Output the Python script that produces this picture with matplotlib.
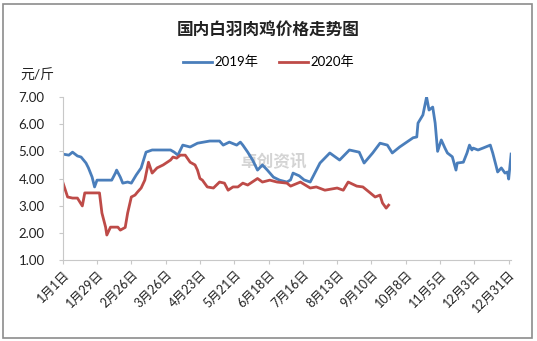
import matplotlib
matplotlib.use('Agg')
import matplotlib.pyplot as plt
from matplotlib.patches import Rectangle

plt.rcParams['font.family'] = ['Lato', 'Noto Sans CJK SC', 'DejaVu Sans']

# 天数(从1月1日起) / 价格 元/斤
days_2019 = [0, 5, 8, 12, 15, 19, 21, 24, 26, 28, 40, 43, 44, 47, 49, 53, 56, 60, 64, 68,
             73, 88, 91, 94, 98, 104, 110, 120, 128, 131, 136, 142, 145, 147, 151, 155, 159,
             163, 167, 172, 177, 183, 186, 188, 193, 197, 202, 210, 218, 226, 234, 242, 246,
             253, 259, 265, 269, 275, 286, 289, 290, 294, 297, 299, 302, 304, 306, 309, 312,
             314, 318, 321, 322, 327, 330, 332, 334, 335, 339, 343, 349, 351, 354, 355, 358,
             361, 363, 364, 366]
price_2019 = [4.9, 4.86, 4.97, 4.83, 4.79, 4.57, 4.39, 4.05, 3.69, 3.94, 3.94, 4.2, 4.31, 4.05,
              3.83, 3.87, 3.83, 4.13, 4.39, 4.97, 5.05, 5.05, 4.97, 4.86, 5.23, 5.16, 5.3, 5.38,
              5.38, 5.23, 5.34, 5.23, 5.34, 5.23, 4.97, 4.68, 4.31, 4.5, 4.31, 4.05, 3.94, 3.87,
              3.95, 4.2, 4.1, 3.95, 3.87, 4.57, 4.94, 4.68, 5.05, 4.97, 4.57, 4.94, 5.3, 5.23,
              4.94, 5.16, 5.5, 5.53, 6.04, 6.34, 7.0, 6.52, 6.63, 6.04, 5.0, 5.42, 5.12, 4.94,
              4.8, 4.31, 4.57, 4.6, 4.94, 5.23, 5.05, 5.12, 5.05, 5.12, 5.23, 4.94, 4.42, 4.24,
              4.39, 4.2, 4.24, 3.98, 4.9]

days_2020 = [0, 4, 8, 12, 16, 18, 30, 32, 35, 36, 39, 45, 47, 51, 53, 56, 59, 61, 64, 67, 70,
             73, 77, 82, 88, 90, 93, 96, 100, 104, 108, 110, 112, 114, 118, 123, 128, 132, 135,
             139, 143, 147, 151, 159, 163, 169, 175, 183, 186, 194, 202, 207, 214, 224, 229,
             233, 240, 245, 251, 255, 259, 261, 264, 266]
price_2020 = [3.87, 3.32, 3.28, 3.28, 2.99, 3.47, 3.47, 2.73, 2.21, 1.92, 2.21, 2.21, 2.1, 2.2,
              2.73, 3.32, 3.39, 3.5, 3.65, 3.94, 4.6, 4.2, 4.39, 4.5, 4.68, 4.79, 4.75, 4.86,
              4.86, 4.6, 4.5, 4.31, 4.0, 3.94, 3.69, 3.65, 3.87, 3.83, 3.57, 3.69, 3.69, 3.83,
              3.76, 4.0, 3.87, 3.94, 3.87, 3.83, 3.72, 3.87, 3.65, 3.69, 3.57, 3.65, 3.57, 3.87,
              3.72, 3.69, 3.47, 3.32, 3.39, 3.1, 2.91, 3.02]

tick_days = [0, 28, 56, 84, 112, 140, 168, 196, 224, 252, 280, 308, 336, 364]
tick_labels = ['1月1日', '1月29日', '2月26日', '3月26日', '4月23日', '5月21日', '6月18日',
               '7月16日', '8月13日', '9月10日', '10月8日', '11月5日', '12月3日', '12月31日']
y_ticks = [1, 2, 3, 4, 5, 6, 7]

fig = plt.figure(figsize=(5.37, 3.41), dpi=100)
fig.patches.append(Rectangle((0.006, 0.009), 0.985, 0.979, transform=fig.transFigure,
                             fill=False, edgecolor='#8c8c8c', linewidth=1.2))

ax = fig.add_axes([0.1168, 0.2375, 0.835, 0.478])
ax.plot(days_2019, price_2019, color='#4a7ebb', lw=2, label='2019年')
ax.plot(days_2020, price_2020, color='#be4b48', lw=2, label='2020年')

ax.text(0.47, 0.6, '卓创资讯', transform=ax.transAxes, fontsize=12, fontweight='bold',
        color='#d4d4d4', ha='center', va='center', zorder=0)

ax.set_xlim(0, 366)
ax.set_ylim(1, 7)
ax.set_xticks(tick_days)
ax.set_xticklabels(tick_labels, rotation=45, ha='right', rotation_mode='anchor', fontsize=9)
ax.set_yticks(y_ticks)
ax.set_yticklabels([f'{v:.2f}' for v in y_ticks], fontsize=9.5)
for s in ['top', 'right']:
    ax.spines[s].set_visible(False)
for s in ['left', 'bottom']:
    ax.spines[s].set_color('#c8c8c8')
ax.tick_params(axis='both', colors='#c8c8c8', labelcolor='#222222', length=3)
ax.tick_params(axis='y', pad=10)
ax.tick_params(axis='x', pad=3)

fig.text(0.5, 0.912, '国内白羽肉鸡价格走势图', ha='center', va='center', fontsize=12,
         fontweight='bold', color='#222222')
fig.text(0.038, 0.78, '元/斤', ha='left', va='center', fontsize=10, color='#222222')
fig.legend(loc='center', bbox_to_anchor=(0.5, 0.818), ncol=2, frameon=False, fontsize=9.5,
           handlelength=2.2, handletextpad=0.2, columnspacing=1.5)

fig.savefig('out.png', dpi=100)
